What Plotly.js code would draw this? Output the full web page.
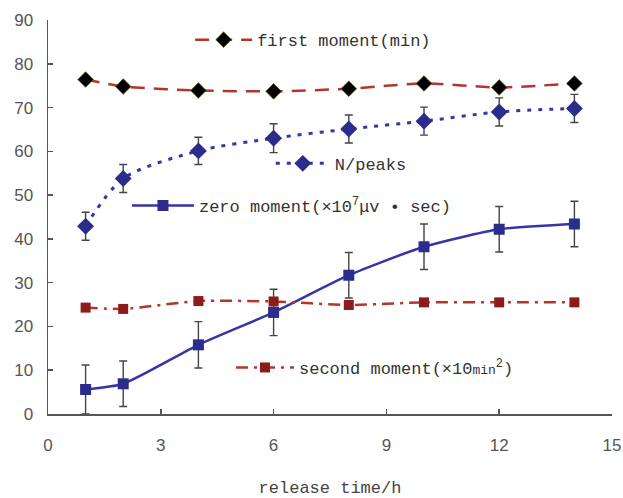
<!DOCTYPE html>
<html><head><meta charset="utf-8">
<script src="https://cdn.plot.ly/plotly-3.0.1.min.js"></script>
<style>html,body{margin:0;padding:0;background:#fff}#chart{width:623px;height:498px}</style>
</head><body><div id="chart"></div>
<script>
const releaseTime = [1, 2, 4, 6, 8, 10, 12, 14];
const firstMoment = [76.4, 74.8, 73.9, 73.7, 74.3, 75.5, 74.6, 75.5];
const nPeaks = [42.9, 53.8, 60.1, 63.0, 65.1, 66.9, 69.0, 69.8];
const nPeaksErr = [3.2, 3.2, 3.1, 3.3, 3.2, 3.2, 3.2, 3.2];
const zeroMoment = [5.6, 6.9, 15.8, 23.2, 31.7, 38.2, 42.2, 43.4];
const zeroMomentErr = [5.6, 5.2, 5.3, 5.3, 5.2, 5.2, 5.2, 5.2];
const secondMoment = [24.3, 24.0, 25.8, 25.7, 24.9, 25.5, 25.5, 25.5];
const xTicks = [0, 3, 6, 9, 12, 15];
const yTicks = [0, 10, 20, 30, 40, 50, 60, 70, 80, 90];

const blueLine = '#3535a8', blueMark = '#2c2c8c';
const redLine = '#b3352b', redMark = '#8c1c1c';
const errStyle = {type: 'data', visible: true, color: '#444', thickness: 1.4, width: 4};

const traces = [
  {x: releaseTime, y: firstMoment, name: 'first moment(min)', mode: 'lines+markers', legend: 'legend',
   line: {color: redLine, width: 2.5, dash: '14px,9px', shape: 'spline', smoothing: 0.6},
   marker: {symbol: 'diamond', size: 12, color: '#000', line: {color: '#5a5a20', width: 0.8}}},
  {x: releaseTime, y: nPeaks, name: 'N/peaks', mode: 'lines+markers', legend: 'legend2',
   error_y: Object.assign({array: nPeaksErr}, errStyle),
   line: {color: blueLine, width: 3, dash: '4px,7px', shape: 'spline', smoothing: 0.8},
   marker: {symbol: 'diamond', size: 13, color: blueMark}},
  {x: releaseTime, y: zeroMoment, name: 'zero moment(×10<sup>7</sup>μv • sec)', mode: 'lines+markers', legend: 'legend3',
   error_y: Object.assign({array: zeroMomentErr}, errStyle),
   line: {color: blueLine, width: 2.5, shape: 'spline', smoothing: 0.6},
   marker: {symbol: 'square', size: 11, color: blueMark}},
  {x: releaseTime, y: secondMoment, name: 'second moment(×10<span style="font-size:13px">min</span><sup>2</sup>)', mode: 'lines+markers', legend: 'legend4',
   line: {color: redLine, width: 2.5, dash: '12px,6px,3px,6px', shape: 'spline', smoothing: 0.6},
   marker: {symbol: 'square', size: 10, color: redMark}}
];

const legFont = {family: 'Liberation Mono, DejaVu Sans Mono, monospace', size: 17, color: '#333'};
function leg(x, y, w) {
  return {x: x, y: y, xanchor: 'left', yanchor: 'middle', bgcolor: 'rgba(0,0,0,0)', borderwidth: 0,
          font: legFont, itemwidth: w, tracegroupgap: 0};
}

const layout = {
  width: 623, height: 498,
  margin: {l: 48, r: 11, t: 20, b: 84},
  paper_bgcolor: '#fff', plot_bgcolor: '#fff',
  showlegend: true,
  legend: leg(0.252, 0.949, 57),
  legend2: leg(0.395, 0.635, 54),
  legend3: leg(0.140, 0.528, 62),
  legend4: leg(0.3245, 0.117, 58),
  xaxis: {range: [0, 15], tickvals: xTicks, ticktext: xTicks.map(String), showgrid: false, zeroline: false,
          showline: true, linecolor: '#555', linewidth: 1.5, ticks: 'inside', ticklen: 5, tickcolor: '#555', tickwidth: 1.5,
          ticklabelstandoff: 15,
          tickfont: {family: 'Liberation Sans, Arial, sans-serif', size: 17, color: '#555'},
          title: {text: 'release time/h', standoff: 29, font: {family: 'Liberation Mono, monospace', size: 17, color: '#444'}}},
  yaxis: {range: [0, 90], tickvals: yTicks, ticktext: yTicks.map(String), showgrid: false, zeroline: false,
          showline: true, linecolor: '#555', linewidth: 1.5, ticks: 'inside', ticklen: 5, tickcolor: '#555', tickwidth: 1.5,
          ticklabelstandoff: 10,
          tickfont: {family: 'Liberation Sans, Arial, sans-serif', size: 17, color: '#555'}}
};

Plotly.newPlot('chart', traces, layout, {displayModeBar: false, staticPlot: true});
</script></body></html>
